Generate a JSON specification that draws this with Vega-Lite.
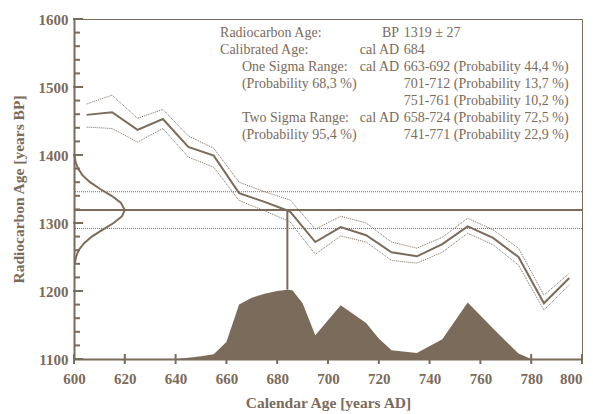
{
  "$schema": "https://vega.github.io/schema/vega-lite/v6.json",
  "width": 508,
  "height": 340,
  "autosize": "none",
  "padding": {"left": 74, "top": 19, "right": 11, "bottom": 55},
  "background": "white",
  "config": {
    "font": "Liberation Serif",
    "view": {"stroke": "#7b6b5b", "strokeWidth": 1},
    "axis": {"grid": false, "domainColor": "#7b6b5b", "domainWidth": 2, "ticks": false,
      "labelFont": "Liberation Serif", "labelFontWeight": "bold", "labelFontSize": 15, "labelColor": "#7b6b5b",
      "titleFont": "Liberation Serif", "titleFontWeight": "bold", "titleFontSize": 15.5, "titleColor": "#7b6b5b"},
    "text": {"font": "Liberation Serif", "fontSize": 14, "color": "#7b6b5b", "baseline": "middle"},
    "tick": {"color": "#7b6b5b"}
  },
  "datasets": {
    "curve": [
      {"cal": 605, "bp": 1459, "up": 1475, "lo": 1441},
      {"cal": 615, "bp": 1463, "up": 1488, "lo": 1439},
      {"cal": 625, "bp": 1437, "up": 1454, "lo": 1419},
      {"cal": 635, "bp": 1453, "up": 1467, "lo": 1439},
      {"cal": 645, "bp": 1412, "up": 1428, "lo": 1397},
      {"cal": 655, "bp": 1399, "up": 1410, "lo": 1382},
      {"cal": 665, "bp": 1344, "up": 1360, "lo": 1333},
      {"cal": 675, "bp": 1331, "up": 1346, "lo": 1318},
      {"cal": 685, "bp": 1317, "up": 1334, "lo": 1302},
      {"cal": 695, "bp": 1272, "up": 1291, "lo": 1254},
      {"cal": 705, "bp": 1294, "up": 1310, "lo": 1281},
      {"cal": 715, "bp": 1282, "up": 1300, "lo": 1272},
      {"cal": 725, "bp": 1257, "up": 1272, "lo": 1245},
      {"cal": 735, "bp": 1251, "up": 1263, "lo": 1241},
      {"cal": 745, "bp": 1269, "up": 1279, "lo": 1257},
      {"cal": 755, "bp": 1295, "up": 1307, "lo": 1285},
      {"cal": 765, "bp": 1278, "up": 1290, "lo": 1268},
      {"cal": 775, "bp": 1250, "up": 1263, "lo": 1238},
      {"cal": 785, "bp": 1182, "up": 1194, "lo": 1172},
      {"cal": 795, "bp": 1219, "up": 1226, "lo": 1209}
    ],
    "dist": [
      {"cal": 600, "p": 1100}, {"cal": 640, "p": 1100}, {"cal": 645, "p": 1102}, {"cal": 650, "p": 1104},
      {"cal": 655, "p": 1107}, {"cal": 660, "p": 1125}, {"cal": 665, "p": 1180}, {"cal": 670, "p": 1190},
      {"cal": 675, "p": 1196}, {"cal": 680, "p": 1200}, {"cal": 684, "p": 1202}, {"cal": 686, "p": 1201},
      {"cal": 690, "p": 1182}, {"cal": 695, "p": 1135}, {"cal": 705, "p": 1179}, {"cal": 715, "p": 1153},
      {"cal": 720, "p": 1130}, {"cal": 725, "p": 1113}, {"cal": 735, "p": 1109}, {"cal": 745, "p": 1129},
      {"cal": 755, "p": 1183}, {"cal": 765, "p": 1145}, {"cal": 775, "p": 1108}, {"cal": 780, "p": 1100}
    ],
    "gauss": [
      {"i": 0, "bp": 1400, "g": 600.2}, {"i": 1, "bp": 1390, "g": 600.6}, {"i": 2, "bp": 1380, "g": 601.6},
      {"i": 3, "bp": 1370, "g": 603.4}, {"i": 4, "bp": 1360, "g": 606.3}, {"i": 5, "bp": 1350, "g": 610.3},
      {"i": 6, "bp": 1340, "g": 614.8}, {"i": 7, "bp": 1330, "g": 618.4}, {"i": 8, "bp": 1319, "g": 620},
      {"i": 9, "bp": 1310, "g": 618.9}, {"i": 10, "bp": 1300, "g": 615.6}, {"i": 11, "bp": 1290, "g": 611.2},
      {"i": 12, "bp": 1280, "g": 607.0}, {"i": 13, "bp": 1270, "g": 603.9}, {"i": 14, "bp": 1260, "g": 601.8},
      {"i": 15, "bp": 1250, "g": 600.8}, {"i": 16, "bp": 1240, "g": 600.3}
    ],
    "yminor": [
      {"bp": 1120}, {"bp": 1140}, {"bp": 1160}, {"bp": 1180},
      {"bp": 1220}, {"bp": 1240}, {"bp": 1260}, {"bp": 1280},
      {"bp": 1320}, {"bp": 1340}, {"bp": 1360}, {"bp": 1380},
      {"bp": 1420}, {"bp": 1440}, {"bp": 1460}, {"bp": 1480},
      {"bp": 1520}, {"bp": 1540}, {"bp": 1560}, {"bp": 1580}
    ],
    "ymajor": [{"bp": 1100}, {"bp": 1200}, {"bp": 1300}, {"bp": 1400}, {"bp": 1500}, {"bp": 1600}],
    "xmajor": [{"cal": 600}, {"cal": 620}, {"cal": 640}, {"cal": 660}, {"cal": 680}, {"cal": 700},
      {"cal": 720}, {"cal": 740}, {"cal": 760}, {"cal": 780}, {"cal": 800}],
    "hlines": [
      {"bp": 1319, "kind": "mean"}, {"bp": 1346, "kind": "sigma"}, {"bp": 1292, "kind": "sigma"}
    ],
    "vline": [{"cal": 684, "top": 1319, "bottom": 1202}],
    "notes": [
      {"col": "a", "cal": 657.5, "bp": 1579, "t": "Radiocarbon Age:"},
      {"col": "a", "cal": 657.5, "bp": 1554, "t": "Calibrated Age:"},
      {"col": "a", "cal": 666.1, "bp": 1529, "t": "One Sigma Range:"},
      {"col": "a", "cal": 666.1, "bp": 1504, "t": "(Probability 68,3 %)"},
      {"col": "a", "cal": 666.1, "bp": 1454, "t": "Two Sigma Range:"},
      {"col": "a", "cal": 666.1, "bp": 1429, "t": "(Probability 95,4 %)"},
      {"col": "b", "cal": 728, "bp": 1579, "t": "BP"},
      {"col": "b", "cal": 728, "bp": 1554, "t": "cal AD"},
      {"col": "b", "cal": 728, "bp": 1529, "t": "cal AD"},
      {"col": "b", "cal": 728, "bp": 1454, "t": "cal AD"},
      {"col": "c", "cal": 729.8, "bp": 1579, "t": "1319 ± 27"},
      {"col": "c", "cal": 729.8, "bp": 1554, "t": "684"},
      {"col": "c", "cal": 729.8, "bp": 1529, "t": "663-692 (Probability 44,4 %)"},
      {"col": "c", "cal": 729.8, "bp": 1504, "t": "701-712 (Probability 13,7 %)"},
      {"col": "c", "cal": 729.8, "bp": 1479, "t": "751-761 (Probability 10,2 %)"},
      {"col": "c", "cal": 729.8, "bp": 1454, "t": "658-724 (Probability 72,5 %)"},
      {"col": "c", "cal": 729.8, "bp": 1429, "t": "741-771 (Probability 22,9 %)"}
    ]
  },
  "layer": [
    {
      "data": {"name": "dist"},
      "mark": {"type": "area", "color": "#7b6b5b", "opacity": 1},
      "encoding": {
        "x": {"field": "cal", "type": "quantitative",
          "scale": {"domain": [600, 800], "nice": false, "zero": false},
          "axis": {"title": "Calendar Age [years AD]", "values": [600, 620, 640, 660, 680, 700, 720, 740, 760, 780, 800],
            "format": "d", "labelOverlap": false, "labelFlush": false, "labelBound": false,
            "labelAlign": {"condition": {"test": "datum.value >= 800", "value": "right"}, "value": "center"},
            "labelPadding": 12, "titlePadding": 9}},
        "y": {"field": "p", "type": "quantitative",
          "scale": {"domain": [1100, 1600], "nice": false, "zero": false},
          "axis": {"title": "Radiocarbon Age [years BP]",
            "values": [1100, 1200, 1300, 1400, 1500, 1600],
            "format": "d", "labelOverlap": false, "labelFlush": false, "labelBound": false,
            "labelPadding": 6, "titlePadding": 12}},
        "y2": {"datum": 1100}
      }
    },
    {
      "data": {"name": "yminor"},
      "mark": {"type": "tick", "orient": "horizontal", "size": 6, "thickness": 2, "clip": false, "opacity": 1},
      "encoding": {"x": {"datum": 601.2}, "y": {"field": "bp", "type": "quantitative"}}
    },
    {
      "data": {"name": "ymajor"},
      "mark": {"type": "tick", "orient": "horizontal", "size": 10, "thickness": 2, "clip": false, "opacity": 1},
      "encoding": {"x": {"datum": 601.6}, "y": {"field": "bp", "type": "quantitative"}}
    },
    {
      "data": {"name": "xmajor"},
      "mark": {"type": "tick", "orient": "vertical", "size": 10, "thickness": 2, "clip": false, "opacity": 1},
      "encoding": {"x": {"field": "cal", "type": "quantitative"}, "y": {"datum": 1100}}
    },
    {
      "data": {"name": "curve"},
      "mark": {"type": "line", "color": "#7b6b5b", "strokeWidth": 2},
      "encoding": {"x": {"field": "cal", "type": "quantitative"}, "y": {"field": "bp", "type": "quantitative"}}
    },
    {
      "data": {"name": "curve"},
      "mark": {"type": "line", "color": "#7b6b5b", "strokeWidth": 1, "strokeDash": [1, 1]},
      "encoding": {"x": {"field": "cal", "type": "quantitative"}, "y": {"field": "up", "type": "quantitative"}}
    },
    {
      "data": {"name": "curve"},
      "mark": {"type": "line", "color": "#7b6b5b", "strokeWidth": 1, "strokeDash": [1, 1]},
      "encoding": {"x": {"field": "cal", "type": "quantitative"}, "y": {"field": "lo", "type": "quantitative"}}
    },
    {
      "data": {"name": "hlines"},
      "transform": [{"filter": "datum.kind === 'mean'"}],
      "mark": {"type": "rule", "color": "#7b6b5b", "strokeWidth": 2},
      "encoding": {"y": {"field": "bp", "type": "quantitative"}}
    },
    {
      "data": {"name": "hlines"},
      "transform": [{"filter": "datum.kind === 'sigma'"}],
      "mark": {"type": "rule", "color": "#7b6b5b", "strokeWidth": 1, "strokeDash": [1, 1]},
      "encoding": {"y": {"field": "bp", "type": "quantitative"}}
    },
    {
      "data": {"name": "vline"},
      "mark": {"type": "rule", "color": "#7b6b5b", "strokeWidth": 2},
      "encoding": {"x": {"field": "cal", "type": "quantitative"}, "y": {"field": "top", "type": "quantitative"}, "y2": {"field": "bottom"}}
    },
    {
      "data": {"name": "gauss"},
      "mark": {"type": "line", "color": "#7b6b5b", "strokeWidth": 2},
      "encoding": {"x": {"field": "g", "type": "quantitative"}, "y": {"field": "bp", "type": "quantitative"}, "order": {"field": "i"}}
    },
    {
      "data": {"name": "notes"},
      "transform": [{"filter": "datum.col === 'a'"}],
      "mark": {"type": "text", "align": "left"},
      "encoding": {"x": {"field": "cal", "type": "quantitative"}, "y": {"field": "bp", "type": "quantitative"}, "text": {"field": "t"}}
    },
    {
      "data": {"name": "notes"},
      "transform": [{"filter": "datum.col === 'b'"}],
      "mark": {"type": "text", "align": "right"},
      "encoding": {"x": {"field": "cal", "type": "quantitative"}, "y": {"field": "bp", "type": "quantitative"}, "text": {"field": "t"}}
    },
    {
      "data": {"name": "notes"},
      "transform": [{"filter": "datum.col === 'c'"}],
      "mark": {"type": "text", "align": "left"},
      "encoding": {"x": {"field": "cal", "type": "quantitative"}, "y": {"field": "bp", "type": "quantitative"}, "text": {"field": "t"}}
    }
  ]
}
